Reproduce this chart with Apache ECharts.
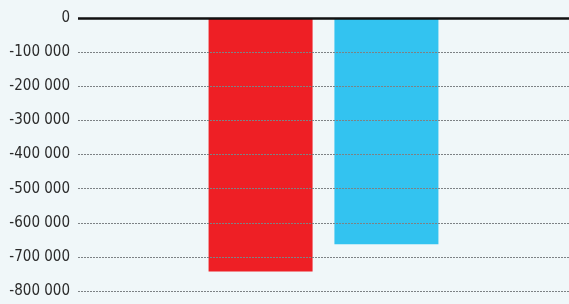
<!DOCTYPE html>
<html>
<head>
<meta charset="utf-8">
<script src="https://cdn.jsdelivr.net/npm/echarts@6/dist/echarts.min.js"></script>
<style>
  html, body { margin: 0; padding: 0; background: #f0f7f9; }
  #chart { width: 569px; height: 304px; }
</style>
</head>
<body>
<div id="chart"></div>
<script>
const categories = ['']
const redValues = [-743000]
const blueValues = [-663000]
const tickMin = -800000
const tickMax = 0
const tickStep = 100000

const chart = echarts.init(document.getElementById('chart'))

const fmt = v => v === 0 ? '0' : '-' + String(Math.abs(v)).replace(/\B(?=(\d{3})+(?!\d))/g, ' ')

chart.setOption({
  backgroundColor: '#f0f7f9',
  animation: false,
  grid: { left: 78, right: 0, top: 18, bottom: 13 },
  xAxis: {
    type: 'category',
    data: categories,
    position: 'top',
    axisLine: { show: false },
    axisTick: { show: false },
    axisLabel: { show: false }
  },
  yAxis: {
    type: 'value',
    min: tickMin,
    max: tickMax,
    interval: tickStep,
    axisLine: { show: false },
    axisTick: { show: false },
    axisLabel: {
      formatter: fmt,
      color: '#2a2a2a',
      fontSize: 15,
      fontFamily: 'DejaVu Sans Condensed, Roboto, sans-serif',
      margin: 8
    },
    splitLine: {
      show: true,
      lineStyle: { color: '#7d8285', type: [2, 1], width: 1 }
    },
    z: 5
  },
  series: [
    {
      type: 'bar',
      data: redValues,
      barWidth: 104,
      barGap: '21%',
      itemStyle: { color: '#ee1f25' },
      z: 1,
      markLine: {
        silent: true,
        symbol: 'none',
        label: { show: false },
        lineStyle: { color: '#111', type: 'solid', width: 2.5 },
        data: [{ yAxis: 0 }]
      }
    },
    {
      type: 'bar',
      data: blueValues,
      barWidth: 104,
      itemStyle: { color: '#33c3f0' },
      z: 1
    }
  ]
})
</script>
</body>
</html>
